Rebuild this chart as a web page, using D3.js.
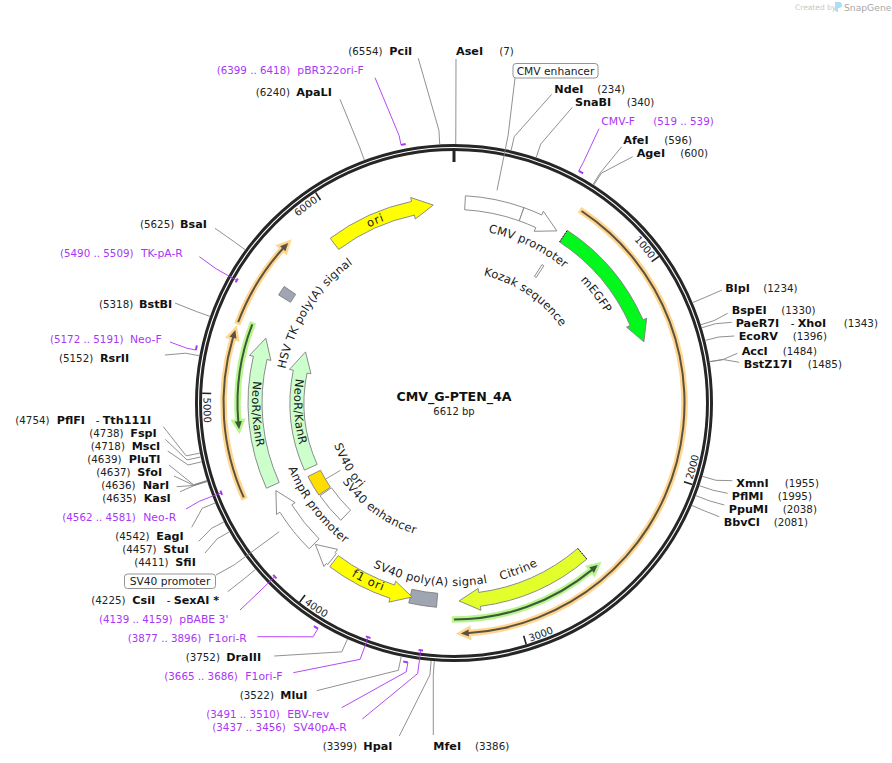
<!DOCTYPE html>
<html>
<head>
<meta charset="utf-8">
<script src="https://cdn.jsdelivr.net/npm/d3@7"></script>
<style>
  body { margin: 0; background: #fff; }
  svg { display: block; }
  text { font-family: "DejaVu Sans", sans-serif; }
</style>
</head>
<body>
<svg id="map"></svg>
<script>
const plasmidName = 'CMV_G-PTEN_4A';
const plasmidLength = 6612;

const tickValues = [1000, 2000, 3000, 4000, 5000, 6000];

// single cutters
const siteNames = ['AseI', 'NdeI', 'SnaBI', 'AfeI', 'AgeI', 'BlpI', 'BspEI', 'PaeR7I', 'EcoRV', 'AccI', 'BstZ17I',
  'XmnI', 'PflMI', 'PpuMI', 'BbvCI', 'MfeI', 'HpaI', 'MluI', 'DraIII', 'CsiI', 'SfiI', 'StuI', 'EagI', 'KasI',
  'NarI', 'SfoI', 'PluTI', 'MscI', 'FspI', 'PflFI', 'RsrII', 'BstBI', 'BsaI', 'ApaLI', 'PciI'];
const sitePositions = [7, 234, 340, 596, 600, 1234, 1330, 1343, 1396, 1484, 1485,
  1955, 1995, 2038, 2081, 3386, 3399, 3522, 3752, 4225, 4411, 4457, 4542, 4635,
  4636, 4637, 4639, 4718, 4738, 4754, 5152, 5318, 5625, 6240, 6554];
const siteIsoschizomers = { PaeR7I: 'XhoI', CsiI: 'SexAI *', PflFI: 'Tth111I' };

// primers
const primerNames = ['CMV-F', 'SV40pA-R', 'EBV-rev', 'F1ori-F', 'F1ori-R', 'pBABE 3\'', 'Neo-R', 'Neo-F', 'TK-pA-R', 'pBR322ori-F'];
const primerStarts = [519, 3437, 3491, 3665, 3877, 4139, 4562, 5172, 5490, 6399];
const primerEnds = [539, 3456, 3510, 3686, 3896, 4159, 4581, 5191, 5509, 6418];
const primerInside = ['SV40pA-R', 'F1ori-F', 'pBABE 3\'', 'Neo-R', 'TK-pA-R'];

// features: tail and tip in bp, blocks have no head
const featureNames = ['CMV enhancer', 'CMV promoter', 'Kozak sequence', 'mEGFP', 'Citrine', 'SV40 poly(A) signal', 'f1 ori',
  'bla promoter', 'AmpR promoter', 'SV40 enhancer', 'SV40 ori', 'NeoR/KanR outer', 'NeoR/KanR inner', 'HSV TK poly(A) signal', 'ori'];
const featureTails = [58, 362, 596, 611, 2564, 3396, 3989, 4004, 4129, 4114, 4330, 4510, 4515, 5540, 5934];
const featureTips = [362, 567, 610, 1325, 3279, 3540, 3530, 4122, 4478, 4322, 4468, 5308, 5308, 5592, 6502];
const featureIsBlock = ['CMV enhancer', 'Kozak sequence', 'SV40 poly(A) signal', 'SV40 enhancer', 'SV40 ori', 'HSV TK poly(A) signal'];

// translated / ORF lines: tail to tip
const orfTails = [617, 3306, 4515, 5350, 5336];
const orfTips = [3275, 2542, 5298, 4831, 5767];
const orfKinds = ['orange', 'green', 'orange', 'green', 'orange'];

const width = 892;
const height = 763;
const cx = 454;
const cy = 403;
const ringR = 255.5;
const elbowR = 273;

const laneR = {
  'CMV enhancer': 200.5, 'CMV promoter': 200.5, 'Kozak sequence': 157, mEGFP: 199.5, Citrine: 198,
  'SV40 poly(A) signal': 198, 'f1 ori': 198.5, 'bla promoter': 198, 'AmpR promoter': 198.5, 'SV40 enhancer': 156,
  'SV40 ori': 156.5, 'NeoR/KanR outer': 199, 'NeoR/KanR inner': 157, 'HSV TK poly(A) signal': 199, ori: 199,
};
const featureFill = {
  'CMV enhancer': '#fff', 'CMV promoter': '#fff', 'Kozak sequence': '#fff', mEGFP: '#02f81c', Citrine: '#e2ff2b',
  'SV40 poly(A) signal': '#9fa6b1', 'f1 ori': '#ffff00', 'bla promoter': '#fff', 'AmpR promoter': '#fff', 'SV40 enhancer': '#fff',
  'SV40 ori': '#ffdd00', 'NeoR/KanR outer': '#ccffcc', 'NeoR/KanR inner': '#ccffcc', 'HSV TK poly(A) signal': '#9fa6b1', ori: '#ffff00',
};
const orfStyle = {
  orange: { halo: '#ffd68f', line: '#5d5240', r: 230.5 },
  green: { halo: '#b9f58f', line: '#3d5a38', r: 216.5 },
};

// curved captions: text, bp at the centre, baseline radius, true = clockwise
const captions = [
  ['ori', 6184, 195, true], ['CMV promoter', 465, 174, true], ['Kozak sequence', 620, 131, true], ['mEGFP', 966, 176, true],
  ['HSV TK poly(A) signal', 5560, 172, true], ['NeoR/KanR', 4900, 202, false], ['NeoR/KanR', 4900, 160, false],
  ['SV40 ori', 4396, 127, false], ['SV40 enhancer', 3962, 136.5, false], ['AmpR promoter', 4282, 178, false],
  ['f1 ori', 3778, 201, false], ['SV40 poly(A) signal', 3450, 183, false], ['Citrine', 2919, 183, false],
];
const wideCaptions = ['ori', 'f1 ori'];

// label placement: name x, position x, centre y, leader end x, leader end y
const sitePlace = {
  AseI: [456, 499.3, 51, 456, 59], NdeI: [554.3, 597.3, 89, 551.7, 94.3], SnaBI: [575, 626.7, 102.3, 572.3, 107.3],
  AfeI: [623.3, 664.3, 140, 621.7, 146.7], AgeI: [636.7, 680.3, 153.3, 632.7, 156.7], BlpI: [725.3, 763.3, 288.3, 722, 290],
  BspEI: [731.7, 781.3, 310, 727.7, 313.3], PaeR7I: [735.7, 843.7, 323, 731.7, 322.3, 790.7], EcoRV: [738.7, 792.7, 336, 734.3, 336],
  AccI: [741.7, 782.7, 351, 737.3, 353.3], BstZ17I: [743.7, 807.7, 364, 739.3, 362.3], XmnI: [736.3, 784.7, 483, 732.3, 480.7],
  PflMI: [731.7, 777.7, 496, 727.7, 493.3], PpuMI: [728.7, 782.7, 509, 724.3, 505], BbvCI: [723.7, 773.7, 522, 719.3, 516.7],
  MfeI: [433.3, 475, 746, 433.3, 735], HpaI: [363.3, 322.7, 746, 399.3, 736], MluI: [280.3, 239.7, 695.3, 316.7, 690.7],
  DraIII: [226.3, 185.7, 657.3, 274.3, 656], CsiI: [132.3, 91.3, 600, 227.7, 591.7, 166.7], SfiI: [175.3, 134.3, 562, 205, 553],
  StuI: [163.3, 122.3, 549, 198.7, 541.3], EagI: [156.3, 115.3, 536.3, 191.7, 527.3], KasI: [143.7, 102.3, 498, 180, 491.7],
  NarI: [142.7, 101.3, 485, 176.7, 486.7], SfoI: [137.3, 96.3, 472, 174, 476], PluTI: [128.7, 87.3, 459, 169, 465],
  MscI: [131.7, 90.7, 446, 167.7, 451], FspI: [130.3, 89.3, 433, 165.3, 439.3], PflFI: [56.7, 15.3, 420, 163.3, 426.7, 95.7],
  RsrII: [100, 59, 358, 165, 355], BstBI: [139, 99, 304, 175, 303], BsaI: [180, 140, 224.3, 215, 228.3],
  ApaLI: [296.3, 255.7, 92.3, 340, 99.3], PciI: [389.3, 348.3, 51, 418.3, 58.3],
};
const primerPlace = {
  'CMV-F': [601.3, 653.3, 121, 599, 128.7], 'SV40pA-R': [293.3, 212.3, 727, 362.3, 719], 'EBV-rev': [287.3, 206.3, 714.3, 341.7, 707.7],
  'F1ori-F': [245.3, 164.3, 676, 293.3, 672.7], 'F1ori-R': [208.3, 127.7, 638.3, 257.3, 636.7], 'pBABE 3\'': [179.3, 99, 619.3, 240, 610],
  'Neo-R': [143.3, 62.3, 517.3, 186, 509], 'Neo-F': [130, 50, 339, 170, 342], 'TK-pA-R': [141, 60, 253, 199.3, 256.7],
  'pBR322ori-F': [297.3, 216.7, 70, 375, 77.7],
};
// boxed labels: box x, box y, box w, box h, leader end x, leader end y
const boxPlace = {
  'CMV enhancer': [513, 63.5, 85, 14.5, 515, 78],
  'SV40 promoter': [124.5, 574, 91, 14.5, 216, 575],
};
const boxPositions = { 'CMV enhancer': 210, 'SV40 promoter': 4291 };

const svg = d3.select('#map').attr('width', width).attr('height', height);
const defs = svg.append('defs');

// bp to canvas angle, 0 at twelve o'clock
const angle = d3.scaleLinear().domain([0, plasmidLength]).range([-Math.PI / 2, Math.PI * 1.5]);
const polar = (bp, r) => [cx + r * Math.cos(angle(bp)), cy + r * Math.sin(angle(bp))];
const bpPerPx = (r) => plasmidLength / (2 * Math.PI * r);

// ------ ring and ticks
svg.append('circle').attr('cx', cx).attr('cy', cy).attr('r', ringR)
  .attr('fill', 'none').attr('stroke', '#262626').attr('stroke-width', 7);
svg.append('circle').attr('cx', cx).attr('cy', cy).attr('r', ringR)
  .attr('fill', 'none').attr('stroke', '#fff').attr('stroke-width', 1.1);

const radial = (bp, r0, r1) => {
  const p = d3.path();
  p.moveTo(...polar(bp, r0));
  p.lineTo(...polar(bp, r1));
  return p.toString();
};

svg.append('path').attr('d', radial(0, 252, 241)).attr('stroke', '#222').attr('stroke-width', 3);
svg.selectAll('.tick').data(tickValues).join('path')
  .attr('class', 'tick')
  .attr('d', (d) => radial(d, 252, 243))
  .attr('stroke', '#222')
  .attr('stroke-width', 1.6);

let pathId = 0;
// an arc for text to run on, from bp0 to bp1
const textArc = (bp0, bp1, r, clockwise) => {
  const id = `arc${pathId += 1}`;
  const p = d3.path();
  p.arc(cx, cy, r, angle(bp0), angle(bp1), !clockwise);
  defs.append('path').attr('id', id).attr('d', p.toString());
  return id;
};

tickValues.forEach((t) => {
  const clockwise = t < 1500 || t > 5500;
  const r = clockwise ? 243 : 250.5;
  // clockwise labels end at their tick, the others start at it
  const id = clockwise ? textArc(t - 400, t - 12, r, true) : textArc(t - 18, t - 400, r, false);
  svg.append('text').attr('font-size', 10).attr('fill', '#222')
    .attr('text-anchor', clockwise ? 'end' : 'start')
    .append('textPath').attr('href', `#${id}`).attr('startOffset', clockwise ? '100%' : '0%')
    .text(t);
});

// ------ features
const arrowPath = (bp0, bp1, r, halfW, barbW, headBp) => {
  const cw = bp1 > bp0;
  const base = cw ? bp1 - headBp : bp1 + headBp;
  const p = d3.path();
  p.moveTo(...polar(bp0, r - halfW));
  p.lineTo(...polar(bp0, r + halfW));
  p.arc(cx, cy, r + halfW, angle(bp0), angle(base), !cw);
  p.lineTo(...polar(base, r + barbW));
  p.lineTo(...polar(bp1, r));
  p.lineTo(...polar(base, r - barbW));
  p.lineTo(...polar(base, r - halfW));
  p.arc(cx, cy, r - halfW, angle(base), angle(bp0), cw);
  p.closePath();
  return p.toString();
};
const blockPath = (bp0, bp1, r, halfW) => {
  const p = d3.path();
  p.arc(cx, cy, r + halfW, angle(bp0), angle(bp1), false);
  p.arc(cx, cy, r - halfW, angle(bp1), angle(bp0), true);
  p.closePath();
  return p.toString();
};

const features = featureNames.map((name, i) => ({ name, tail: featureTails[i], tip: featureTips[i] }));
svg.selectAll('.feature').data(features).join('path')
  .attr('class', 'feature')
  .attr('d', (d) => {
    const r = laneR[d.name];
    if (featureIsBlock.includes(d.name)) return blockPath(d.tail, d.tip, r, 7);
    return arrowPath(d.tail, d.tip, r, 7, 11, 20.5 * bpPerPx(r));
  })
  .attr('fill', (d) => featureFill[d.name])
  .attr('stroke', '#808080')
  .attr('stroke-width', 0.9)
  .attr('stroke-linejoin', 'miter');

// cut-off ends of mEGFP and Citrine
['mEGFP', 'Citrine'].forEach((name) => {
  const f = features.find((d) => d.name === name);
  const r = laneR[name];
  svg.append('path').attr('d', radial(f.tail, r - 7, r + 7))
    .attr('stroke', '#111').attr('stroke-width', 1).attr('stroke-dasharray', '1.5,1.5');
});

// ORF lines with halo
const orfs = orfTails.map((tail, i) => ({ tail, tip: orfTips[i], kind: orfKinds[i] }));
const orfPath = (d, halfW, barbW) => {
  const { r } = orfStyle[d.kind];
  return arrowPath(d.tail, d.tip, r, halfW, barbW, 8 * bpPerPx(r));
};
svg.selectAll('.orf-halo').data(orfs).join('path')
  .attr('class', 'orf-halo')
  .attr('d', (d) => orfPath(d, 1, 4))
  .attr('fill', (d) => orfStyle[d.kind].halo)
  .attr('stroke', (d) => orfStyle[d.kind].halo)
  .attr('stroke-width', 4.5);
svg.selectAll('.orf-line').data(orfs).join('path')
  .attr('class', 'orf-line')
  .attr('d', (d) => orfPath(d, 1, 3.6))
  .attr('fill', (d) => orfStyle[d.kind].line);

// ------ curved captions
captions.forEach(([label, bp, r, clockwise]) => {
  const id = clockwise ? textArc(bp - 1500, bp + 1500, r, true) : textArc(bp + 1500, bp - 1500, r, false);
  let spacing = clockwise ? 0.15 : 0.3;
  if (wideCaptions.includes(label)) spacing = 0.9;
  svg.append('text').attr('font-size', 11.5).attr('fill', '#1a1a1a').attr('text-anchor', 'middle')
    .attr('letter-spacing', spacing)
    .append('textPath').attr('href', `#${id}`).attr('startOffset', '50%')
    .text(label);
});
svg.append('path').attr('d', radial(4396, 150, 132)).attr('stroke', '#888').attr('stroke-width', 0.9);

// ------ leaders
const leader = (startBp, startR, endX, endY, color) => {
  const pts = [polar(startBp, startR), polar(startBp, elbowR), [endX, endY]];
  svg.append('path').attr('d', d3.line()(pts))
    .attr('fill', 'none').attr('stroke', color).attr('stroke-width', 0.9);
};

// ------ enzyme labels
siteNames.forEach((name, i) => {
  const [nameX, posX, y, endX, endY, secondX] = sitePlace[name];
  const pos = sitePositions[i];
  leader(pos, 259, endX, endY, '#858585');
  svg.append('text').attr('x', nameX).attr('y', y + 4).attr('font-size', 11.2)
    .attr('font-weight', 'bold').attr('fill', '#111').text(name);
  svg.append('text').attr('x', posX).attr('y', y + 4).attr('font-size', 10.3)
    .attr('fill', '#222').text(`(${pos})`);
  if (secondX) {
    const t = svg.append('text').attr('x', secondX).attr('y', y + 4).attr('font-size', 11.2)
      .attr('fill', '#111');
    t.append('tspan').attr('font-size', 10.3).text('- ');
    t.append('tspan').attr('font-weight', 'bold').text(siteIsoschizomers[name]);
  }
});

// ------ primers
const purple = '#a936f6';
primerNames.forEach((name, i) => {
  const [nameX, rangeX, y, endX, endY] = primerPlace[name];
  const inside = primerInside.includes(name);
  const r = inside ? 249.5 : 263.5;
  const p = d3.path();
  p.arc(cx, cy, r, angle(primerStarts[i]), angle(primerEnds[i]), false);
  svg.append('path').attr('d', p.toString()).attr('fill', 'none').attr('stroke', purple).attr('stroke-width', 2);
  leader(inside ? (primerStarts[i] + primerEnds[i]) / 2 : primerStarts[i], r, endX, endY, purple);
  svg.append('text').attr('x', nameX).attr('y', y + 4).attr('font-size', 10.8).attr('fill', purple).text(name);
  svg.append('text').attr('x', rangeX).attr('y', y + 4).attr('font-size', 10.3).attr('fill', purple)
    .text(`(${primerStarts[i]} .. ${primerEnds[i]})`);
});

// ------ boxed labels
Object.keys(boxPlace).forEach((name) => {
  const [x, y, w, h, endX, endY] = boxPlace[name];
  leader(boxPositions[name], 217, endX, endY, '#858585');
  svg.append('rect').attr('x', x).attr('y', y).attr('width', w).attr('height', h)
    .attr('rx', 3).attr('fill', '#fff').attr('stroke', '#888').attr('stroke-width', 0.9);
  svg.append('text').attr('x', x + w / 2).attr('y', y + h / 2 + 3.8).attr('font-size', 10.7)
    .attr('text-anchor', 'middle').attr('fill', '#222').text(name);
});

// ------ centre
svg.append('text').attr('x', cx).attr('y', cy - 2).attr('text-anchor', 'middle')
  .attr('font-size', 12.6).attr('font-weight', 'bold').attr('fill', '#111').text(plasmidName);
svg.append('text').attr('x', cx).attr('y', cy + 12).attr('text-anchor', 'middle')
  .attr('font-size', 10).attr('fill', '#222').text(`${plasmidLength} bp`);

// ------ credit
svg.append('text').attr('x', 795).attr('y', 10).attr('font-size', 7.5).attr('fill', '#c8c8c8').text('Created by');
svg.append('path').attr('d', 'M835,2 h4 q3,0 3,3 t-3,3 l-1,0 l0,4 q-3,0 -3,-3 z').attr('fill', '#a9dff3');
svg.append('text').attr('x', 844).attr('y', 11).attr('font-size', 9.2).attr('fill', '#a8a8a8').text('SnapGene');
</script>
</body>
</html>
